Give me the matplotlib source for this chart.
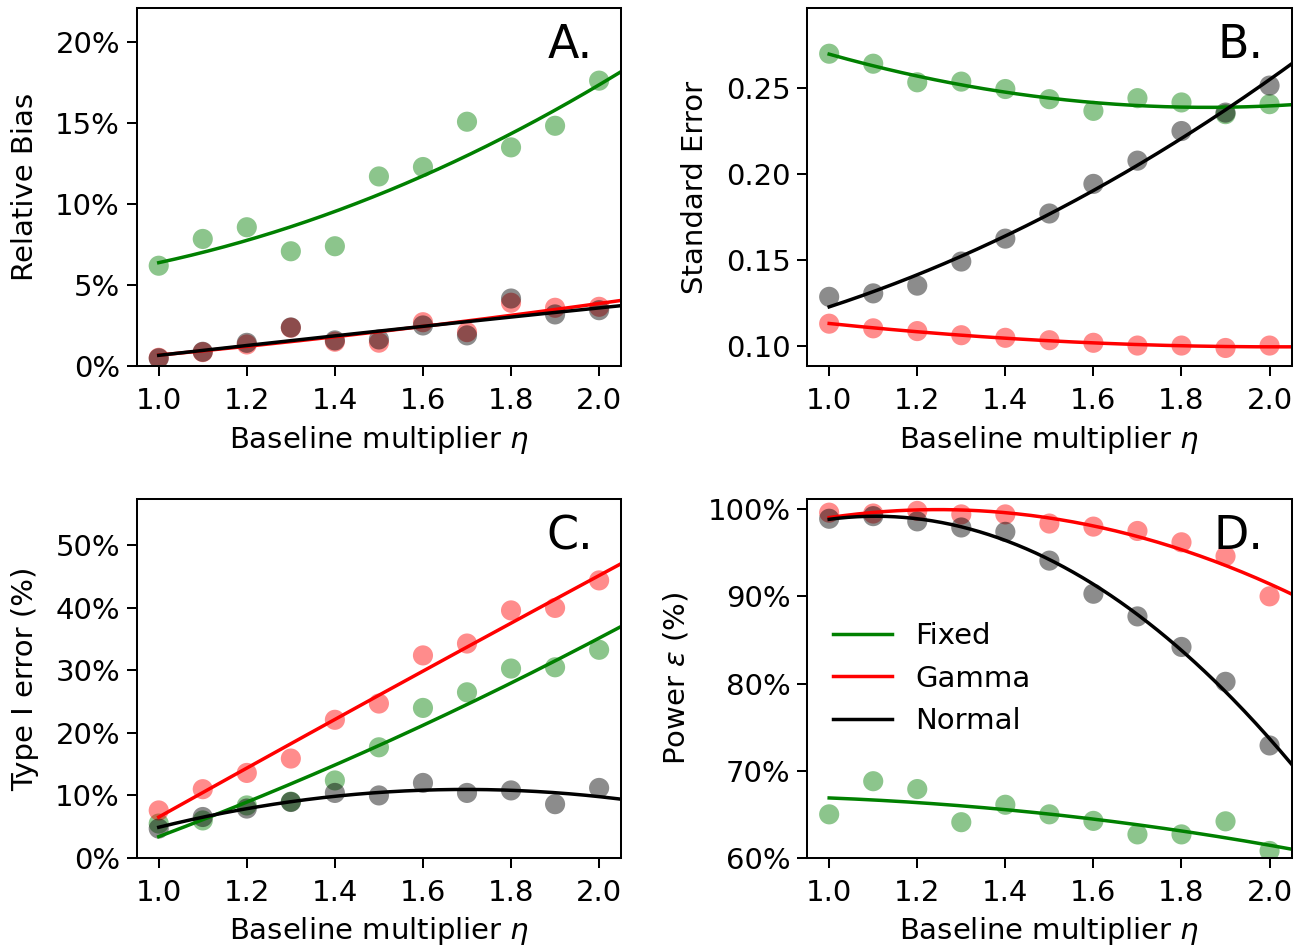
import numpy as np
import matplotlib
matplotlib.use('Agg')
import matplotlib.pyplot as plt
from matplotlib.ticker import FuncFormatter

# baseline multiplier eta
eta = np.array([1.0, 1.1, 1.2, 1.3, 1.4, 1.5, 1.6, 1.7, 1.8, 1.9, 2.0])

#===============================================
# A. relative bias (%)
#===============================================
bias_fixed = [6.2, 7.85, 8.57, 7.09, 7.40, 11.7, 12.28, 15.07, 13.49, 14.82, 17.6]
bias_gamma = [0.53, 0.88, 1.35, 2.38, 1.52, 1.46, 2.72, 2.11, 3.92, 3.61, 3.67]
bias_normal = [0.5, 0.9, 1.45, 2.4, 1.6, 1.66, 2.52, 1.91, 4.18, 3.2, 3.46]

#===============================================
# B. standard error
#===============================================
se_fixed = [0.2699, 0.2641, 0.2533, 0.2537, 0.2494, 0.2435, 0.2367, 0.2441, 0.2416, 0.2348, 0.2406]
se_gamma = [0.1131, 0.1104, 0.1088, 0.1064, 0.1049, 0.1035, 0.1020, 0.1004, 0.1004, 0.0990, 0.1004]
se_normal = [0.1287, 0.1307, 0.1352, 0.1492, 0.1625, 0.1771, 0.1943, 0.2078, 0.2250, 0.2357, 0.2514]

#===============================================
# C. type I error (%)
#===============================================
t1_fixed = [5.5, 6.0, 8.4, 9.0, 12.4, 17.7, 24.0, 26.5, 30.3, 30.5, 33.3]
t1_gamma = [7.6, 11.0, 13.6, 15.9, 22.1, 24.7, 32.4, 34.3, 39.6, 40.0, 44.4]
t1_normal = [4.7, 6.55, 7.9, 8.95, 10.4, 10.0, 12.0, 10.4, 10.8, 8.6, 11.2]

#===============================================
# D. power (%)
#===============================================
pw_fixed = [65.0, 68.8, 67.9, 64.1, 66.1, 65.0, 64.25, 62.7, 62.7, 64.2, 60.8]
pw_gamma = [99.6, 99.5, 99.8, 99.4, 99.4, 98.35, 98.0, 97.5, 96.2, 94.6, 90.0]
pw_normal = [98.9, 99.2, 98.6, 97.9, 97.4, 94.1, 90.3, 87.7, 84.2, 80.2, 72.9]

labels = ['Fixed', 'Gamma', 'Normal']
colors = ['green', 'red', 'black']

panels = [
    ('A.', 'Relative Bias', [bias_fixed, bias_gamma, bias_normal], (0, 22.1), [0, 5, 10, 15, 20], 'pct'),
    ('B.', 'Standard Error', [se_fixed, se_gamma, se_normal], (0.0883, 0.2967), [0.10, 0.15, 0.20, 0.25], 'dec'),
    ('C.', 'Type I error (%)', [t1_fixed, t1_gamma, t1_normal], (0, 57.4), [0, 10, 20, 30, 40, 50], 'pct'),
    ('D.', r'Power $\varepsilon$ (%)', [pw_fixed, pw_gamma, pw_normal], (60, 101.15), [60, 70, 80, 90, 100], 'pct'),
]

plt.rcParams['font.size'] = 21

fig, axes = plt.subplots(2, 2, figsize=(13.02, 9.48), dpi=100)
fig.subplots_adjust(left=0.105, right=0.992, top=0.992, bottom=0.095, wspace=0.384, hspace=0.37)

x_fit = np.linspace(1.0, 2.06, 200)

for ax, (letter, ylab, series, ylim, yticks, fmt) in zip(axes.flat, panels):
    for vals, lab, col in zip(series, labels, colors):
        vals = np.array(vals)
        ax.scatter(eta, vals, s=210, color=col, alpha=0.45, edgecolors='none')
        coef = np.polyfit(eta, vals, 2)
        ax.plot(x_fit, np.polyval(coef, x_fit), color=col, linewidth=2.5, label=lab)
    ax.set_xlim(0.95, 2.05)
    ax.set_ylim(*ylim)
    ax.set_xticks([1.0, 1.2, 1.4, 1.6, 1.8, 2.0])
    ax.xaxis.set_major_formatter(FuncFormatter(lambda v, p: f'{v:.1f}'))
    ax.set_yticks(yticks)
    if fmt == 'pct':
        ax.yaxis.set_major_formatter(FuncFormatter(lambda v, p: f'{v:.0f}%'))
    else:
        ax.yaxis.set_major_formatter(FuncFormatter(lambda v, p: f'{v:.2f}'))
    ax.set_xlabel(r'Baseline multiplier $\eta$', labelpad=6)
    ax.set_ylabel(ylab, labelpad=12)
    ax.tick_params(axis='x', length=7, width=1.45, pad=8)
    ax.tick_params(axis='y', length=7, width=1.45, pad=5)
    for sp in ax.spines.values():
        sp.set_linewidth(1.45)
    ax.text(0.942, 0.958, letter, transform=ax.transAxes, fontsize=33,
            ha='right', va='top')

axes[1, 1].legend(loc='center left', bbox_to_anchor=(0.0, 0.5), frameon=False,
                  handlelength=2.0, handletextpad=0.8, labelspacing=0.5)

fig.savefig('out.png', dpi=100)
